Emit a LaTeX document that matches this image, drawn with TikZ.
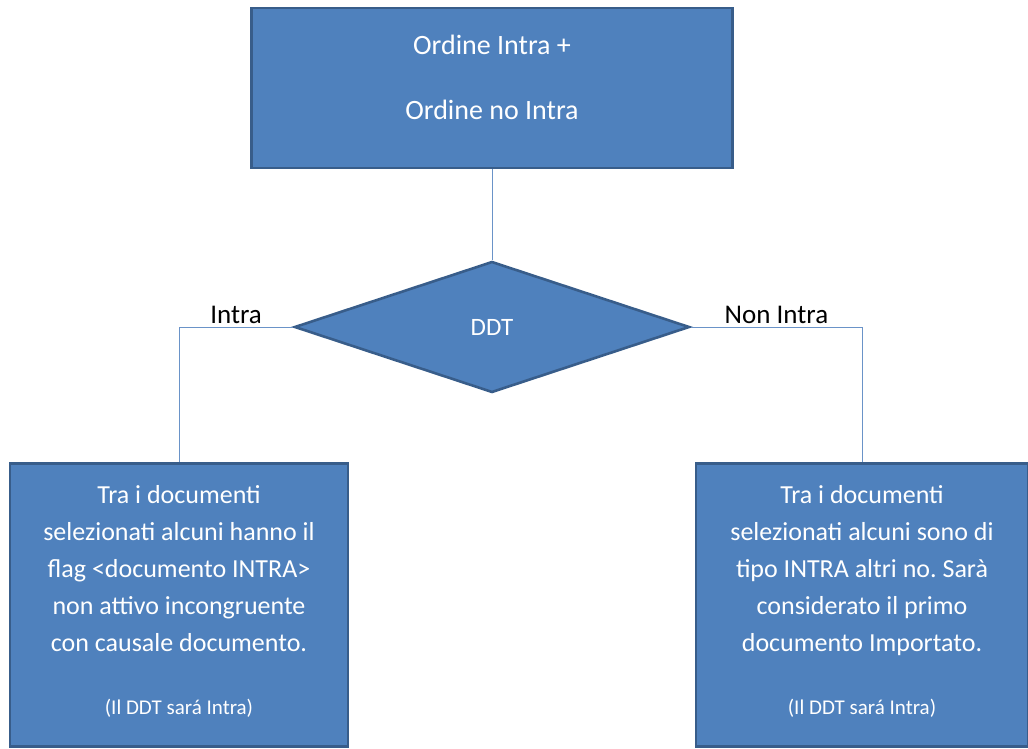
\documentclass[tikz,border=0pt]{standalone}
\usepackage{fontspec}
\setmainfont{Carlito}
\usetikzlibrary{shapes.geometric}
\frenchspacing

\begin{document}
\begin{tikzpicture}[x=1pt, y=-1pt]
    % Define colours
    \definecolor{borderColour}{HTML}{385D8A}
    \definecolor{fillColour}{HTML}{4F81BD}
    \definecolor{lineColour}{HTML}{6A93C8}

    \tikzset{
        box/.style={draw=borderColour, fill=fillColour, line width=2.6pt, text=white,
            align=center, inner sep=0pt},
        ddtshape/.style={diamond, draw=borderColour, fill=fillColour, line width=2.6pt,
            text=white, inner sep=0pt, minimum width=395, minimum height=131,
            font=\fontsize{25}{30}\selectfont},
        link/.style={draw=lineColour, line width=1pt},
        branch/.style={text=black, anchor=south, inner sep=3pt,
            font=\fontsize{27}{32}\selectfont}
    }

    % Fix the page size
    \useasboundingbox (0,0) rectangle (1028,749);

    % Top box
    \node[box, minimum width=481, minimum height=160, text depth=22pt,
        font=\fontsize{28}{65}\selectfont] (ordine) at (492,88)
        {Ordine Intra +\\Ordine no Intra};

    % Decision
    \node[ddtshape] (ddt) at (492,327) {DDT};

    % Bottom boxes
    \node[box, minimum width=338, minimum height=283, text depth=10pt,
        font=\fontsize{26}{37}\selectfont] (intra) at (179,605)
        {Tra i documenti\\selezionati alcuni hanno il\\flag <documento INTRA>\\
         non attivo incongruente\\con causale documento.\\[26pt]
         {\fontsize{21}{24}\selectfont (Il DDT sará Intra)}};
    \node[box, minimum width=332, minimum height=283, text depth=10pt,
        font=\fontsize{26}{37}\selectfont] (nonintra) at (862,605)
        {Tra i documenti\\selezionati alcuni sono di\\tipo INTRA altri no. Sarà\\
         considerato il primo\\documento Importato.\\[26pt]
         {\fontsize{21}{24}\selectfont (Il DDT sará Intra)}};

    % Connectors
    \draw[link] (ordine.south) -- (ddt.north);
    \draw[link] (ddt.west) -| node[branch, pos=0.25] {Intra} (intra.north);
    \draw[link] (ddt.east) -| node[branch, pos=0.25] {Non Intra} (nonintra.north);

\end{tikzpicture}
\end{document}
